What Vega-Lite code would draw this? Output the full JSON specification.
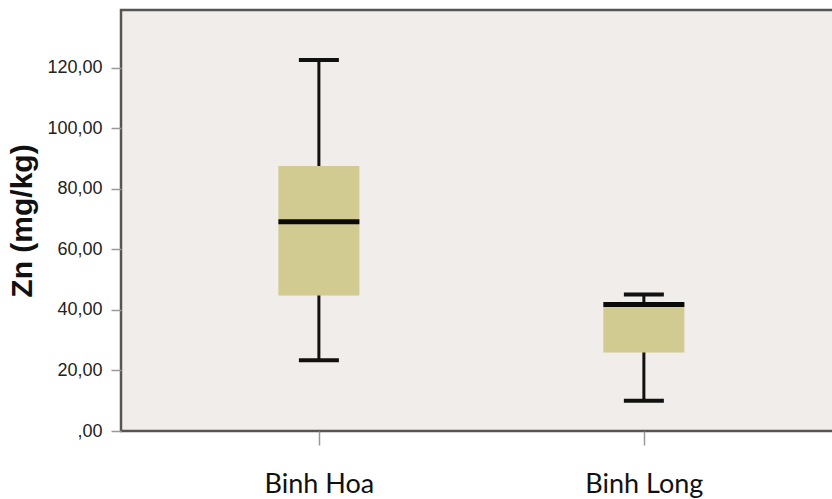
{
  "$schema": "https://vega.github.io/schema/vega-lite/v6.json",
  "autosize": "none",
  "width": 713,
  "height": 421,
  "padding": {"left": 121, "top": 10, "right": 0, "bottom": 68},
  "background": "white",
  "config": {
    "view": {"fill": "#f0edea", "stroke": "#555555", "strokeWidth": 2.5}
  },
  "data": {
    "values": [
      {"site": "Binh Hoa", "min": 23.4, "q1": 44.7, "median": 69.1, "q3": 87.5, "max": 122.5},
      {"site": "Binh Long", "min": 10.0, "q1": 25.9, "median": 41.8, "q3": 42.4, "max": 45.1}
    ]
  },
  "encoding": {
    "x": {
      "field": "site",
      "type": "nominal",
      "sort": null,
      "scale": {"type": "point", "padding": 0.597, "align": 0.51},
      "axis": {
        "title": null,
        "domain": false,
        "grid": false,
        "labelAngle": 0,
        "labelFont": "Lato",
        "labelFontSize": 27,
        "labelColor": "#111111",
        "labelPadding": 26,
        "tickColor": "#999999",
        "tickWidth": 1.5,
        "tickSize": 14
      }
    }
  },
  "layer": [
    {
      "mark": {"type": "rule", "color": "#111111", "strokeWidth": 3},
      "encoding": {
        "y": {
          "field": "min",
          "type": "quantitative",
          "scale": {"domain": [0, 139], "nice": false, "zero": true},
          "axis": {
            "title": "Zn (mg/kg)",
            "titleFont": "Liberation Sans",
            "titleFontWeight": "bold",
            "titleFontSize": 30,
            "titleColor": "#111111",
            "titlePadding": 9,
            "values": [0, 20, 40, 60, 80, 100, 120],
            "labelExpr": "datum.value == 0 ? ',00' : replace(format(datum.value, '.2f'), '.', ',')",
            "labelFont": "Liberation Sans",
            "labelFontSize": 18,
            "labelColor": "#222222",
            "labelPadding": 9,
            "domain": false,
            "grid": false,
            "tickColor": "#999999",
            "tickWidth": 1.5,
            "tickSize": 10
          }
        },
        "y2": {"field": "max"}
      }
    },
    {
      "mark": {"type": "bar", "size": 81, "color": "#d1ca91"},
      "encoding": {
        "y": {"field": "q1", "type": "quantitative"},
        "y2": {"field": "q3"}
      }
    },
    {
      "mark": {"type": "tick", "size": 81, "thickness": 5, "color": "#0a0a0a", "opacity": 1},
      "encoding": {"y": {"field": "median", "type": "quantitative"}}
    },
    {
      "mark": {"type": "tick", "size": 40, "thickness": 4, "color": "#111111", "opacity": 1},
      "encoding": {"y": {"field": "min", "type": "quantitative"}}
    },
    {
      "mark": {"type": "tick", "size": 40, "thickness": 4, "color": "#111111", "opacity": 1},
      "encoding": {"y": {"field": "max", "type": "quantitative"}}
    }
  ]
}
